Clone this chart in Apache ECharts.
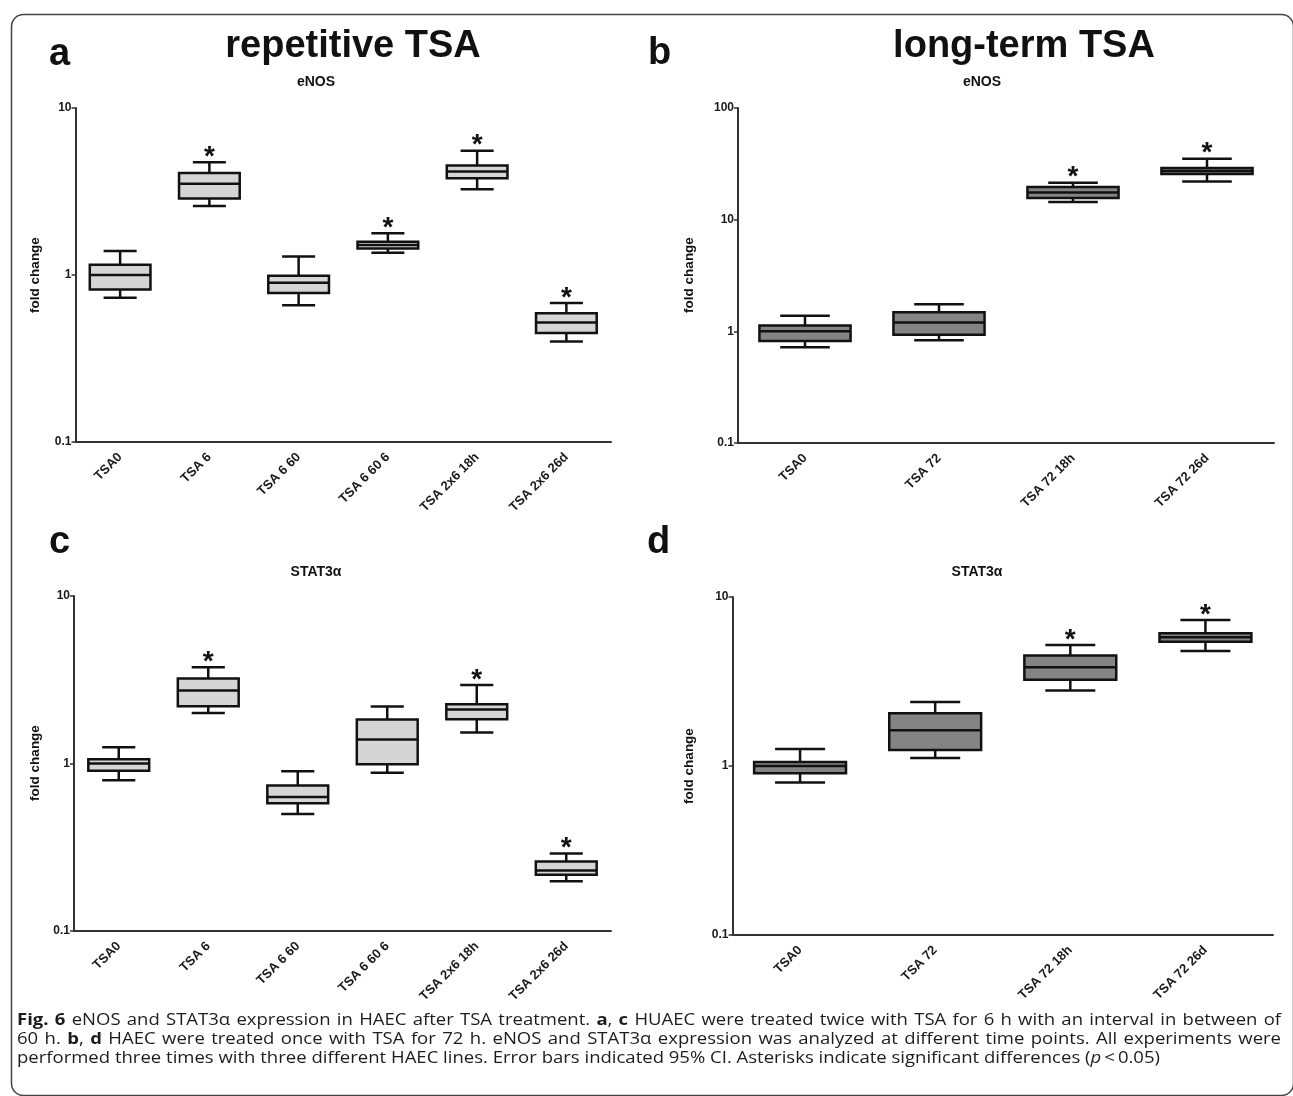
<!DOCTYPE html>
<html>
<head>
<meta charset="utf-8">
<script src="https://cdn.jsdelivr.net/npm/echarts@6/dist/echarts.min.js"></script>
<style>
html,body{margin:0;padding:0;background:#fff;}
#chart{width:1293px;height:1096px;}
</style>
</head>
<body>
<div id="chart"></div>
<script>
// ---------------- data ----------------
const catsRepetitive = ['TSA0', 'TSA 6', 'TSA 6 60', 'TSA 6 60 6', 'TSA 2x6 18h', 'TSA 2x6 26d'];
const catsLongTerm = ['TSA0', 'TSA 72', 'TSA 72 18h', 'TSA 72 26d'];

// each row: [lower whisker, Q1, median, Q3, upper whisker]
const eNOSRepetitive = [
  [0.73, 0.82, 1.00, 1.15, 1.39],
  [2.59, 2.87, 3.52, 4.08, 4.73],
  [0.66, 0.78, 0.90, 0.99, 1.29],
  [1.36, 1.44, 1.51, 1.58, 1.78],
  [3.26, 3.79, 4.16, 4.52, 5.55],
  [0.40, 0.45, 0.52, 0.59, 0.68]
];
const eNOSRepetitiveSig = [0, 1, 0, 1, 1, 1];

const eNOSLongTerm = [
  [0.72, 0.82, 1.00, 1.13, 1.38],
  [0.83, 0.93, 1.20, 1.48, 1.75],
  [14.4, 15.6, 17.5, 19.6, 21.4],
  [22.0, 25.6, 27.3, 29.0, 35.2]
];
const eNOSLongTermSig = [0, 0, 1, 1];

const stat3Repetitive = [
  [0.795, 0.904, 1.00, 1.06, 1.25],
  [2.00, 2.20, 2.73, 3.22, 3.75],
  [0.50, 0.58, 0.63, 0.74, 0.90],
  [0.88, 0.99, 1.39, 1.83, 2.19],
  [1.53, 1.84, 2.10, 2.26, 2.94],
  [0.198, 0.217, 0.230, 0.260, 0.290]
];
const stat3RepetitiveSig = [0, 1, 0, 0, 1, 1];

const stat3LongTerm = [
  [0.80, 0.905, 1.00, 1.056, 1.26],
  [1.115, 1.243, 1.63, 2.05, 2.39],
  [2.80, 3.24, 3.84, 4.50, 5.20],
  [4.79, 5.44, 5.77, 6.10, 7.31]
];
const stat3LongTermSig = [0, 0, 1, 1];

const yRangeRepetitive = [0.1, 10];
const yRangeLongTermENOS = [0.1, 100];
const yRangeLongTermSTAT = [0.1, 10];

const panelLetters = ['a', 'b', 'c', 'd'];
const columnTitles = ['repetitive TSA', 'long-term TSA'];
const geneTitles = ['eNOS', 'eNOS', 'STAT3\u03b1', 'STAT3\u03b1'];
const yAxisName = 'fold change';

const captionLines = [
  '{b|Fig.} {b|6} eNOS and STAT3\u03b1 expression in HAEC after TSA treatment. {b|a}, {b|c} HUAEC were treated twice with TSA for 6 h with an interval in between of',
  '60 h. {b|b}, {b|d} HAEC were treated once with TSA for 72 h. eNOS and STAT3\u03b1 expression was analyzed at different time points. All experiments were',
  'performed three times with three different HAEC lines. Error bars indicated 95% CI. Asterisks indicate significant differences ({i|p}\u2009<\u20090.05)'
];

// ---------------- chart ----------------
const FONT = "'Liberation Sans', Arial, Helvetica, sans-serif";
const chart = echarts.init(document.getElementById('chart'), null, {renderer: 'canvas'});

const grids = [
  {left: 75.5, top: 108, width: 535.5, height: 334},
  {left: 738, top: 108, width: 536, height: 335},
  {left: 74, top: 596, width: 537, height: 335},
  {left: 732.5, top: 597, width: 540.5, height: 338}
];

function mkX(idx, cats) {
  return {
    type: 'category', gridIndex: idx, data: cats, boundaryGap: true,
    axisLine: {lineStyle: {color: '#333', width: 2}},
    axisTick: {alignWithLabel: true, length: 5, lineStyle: {color: '#333', width: 1.5}},
    axisLabel: {rotate: 45, fontSize: 13, fontWeight: 'bold', color: '#1a1a1a', fontFamily: FONT, margin: 13, interval: 0},
    splitLine: {show: false}
  };
}
function mkY(idx, range) {
  return {
    type: 'log', logBase: 10, gridIndex: idx, min: range[0], max: range[1],
    axisLine: {show: true, lineStyle: {color: '#333', width: 2}},
    axisTick: {show: true, length: 4, lineStyle: {color: '#333', width: 1.5}},
    minorTick: {show: false},
    axisLabel: {fontSize: 12, fontWeight: 'bold', color: '#1a1a1a', fontFamily: FONT, margin: 4,
      formatter: function (v) { return String(+v.toPrecision(3)); }},
    splitLine: {show: false}
  };
}

function boxRender(fill, boxRatio, capRatio) {
  return function (params, api) {
    const i = api.value(0);
    const lo = api.value(1), q1 = api.value(2), md = api.value(3), q3 = api.value(4), hi = api.value(5);
    const sig = api.value(6);
    const band = api.size([1, 0], [i, 1])[0];
    const bw = band * boxRatio, cw = band * capRatio;
    const pLo = api.coord([i, lo]), pQ1 = api.coord([i, q1]), pMd = api.coord([i, md]);
    const pQ3 = api.coord([i, q3]), pHi = api.coord([i, hi]);
    const cx = pMd[0];
    const st = {stroke: '#111', lineWidth: 2.5, lineCap: 'butt'};
    const children = [
      {type: 'line', shape: {x1: cx, y1: pHi[1], x2: cx, y2: pQ3[1]}, style: st},
      {type: 'line', shape: {x1: cx, y1: pQ1[1], x2: cx, y2: pLo[1]}, style: st},
      {type: 'line', shape: {x1: cx - cw / 2, y1: pHi[1], x2: cx + cw / 2, y2: pHi[1]}, style: st},
      {type: 'line', shape: {x1: cx - cw / 2, y1: pLo[1], x2: cx + cw / 2, y2: pLo[1]}, style: st},
      {type: 'rect', shape: {x: cx - bw / 2, y: pQ3[1], width: bw, height: pQ1[1] - pQ3[1]},
        style: {fill: fill, stroke: '#111', lineWidth: 2.5}},
      {type: 'line', shape: {x1: cx - bw / 2, y1: pMd[1], x2: cx + bw / 2, y2: pMd[1]}, style: st}
    ];
    if (sig) {
      children.push({type: 'text', x: cx, y: pHi[1] - 5,
        style: {text: '*', fontSize: 28, fontWeight: 'bold', fontFamily: FONT, fill: '#111',
          align: 'center', verticalAlign: 'middle'}});
    }
    return {type: 'group', children: children};
  };
}

function mkSeries(idx, rows, sig, fill) {
  return {
    type: 'custom', xAxisIndex: idx, yAxisIndex: idx,
    renderItem: boxRender(fill, 0.68, 0.37),
    encode: {x: 0, y: [1, 2, 3, 4, 5]},
    data: rows.map(function (r, i) { return [i].concat(r).concat([sig[i]]); }),
    clip: false, silent: true
  };
}

const LIGHT = '#d5d5d5', DARK = '#848484';

const graphic = [];
// frame
graphic.push({type: 'rect', left: 9, top: 12, shape: {width: 1282, height: 1081, r: 12},
  style: {fill: 'none', stroke: '#444', lineWidth: 1.5}, z: 0});
// panel letters
const letterPos = [[49, 55], [648, 54], [49, 543], [647, 543]];
panelLetters.forEach(function (t, k) {
  graphic.push({type: 'text', x: letterPos[k][0], y: letterPos[k][1],
    style: {text: t, fontSize: 38, fontWeight: 'bold', fontFamily: FONT, fill: '#111',
      align: 'left', verticalAlign: 'middle'}});
});
// column titles
const colTitlePos = [[353, 47], [1024, 47]];
columnTitles.forEach(function (t, k) {
  graphic.push({type: 'text', x: colTitlePos[k][0], y: colTitlePos[k][1],
    style: {text: t, fontSize: 38, fontWeight: 'bold', fontFamily: FONT, fill: '#111',
      align: 'center', verticalAlign: 'middle'}});
});
// gene titles
const genePos = [[316, 82], [982, 82], [316, 572], [977, 572]];
geneTitles.forEach(function (t, k) {
  graphic.push({type: 'text', x: genePos[k][0], y: genePos[k][1],
    style: {text: t, fontSize: 14, fontWeight: 'bold', fontFamily: FONT, fill: '#111',
      align: 'center', verticalAlign: 'middle'}});
});
// y axis names
const yNamePos = [[35, 275], [689, 275], [35, 763], [689.5, 766]];
yNamePos.forEach(function (p) {
  graphic.push({type: 'text', x: p[0], y: p[1], rotation: Math.PI / 2,
    style: {text: yAxisName, fontSize: 13.5, fontWeight: 'bold', fontFamily: FONT, fill: '#111',
      align: 'center', verticalAlign: 'middle'}});
});

// caption (justified lines 1-2, natural last line)
const CAPFONT = "'Open Sans', 'Noto Sans', sans-serif";
const CAPSIZE = 16.5;
const CAPCOLOR = '#1c1c1c';
const capRich = {
  b: {fontWeight: 'bold', fontSize: CAPSIZE, fontFamily: CAPFONT, fill: CAPCOLOR},
  i: {fontStyle: 'italic', fontSize: CAPSIZE, fontFamily: CAPFONT, fill: CAPCOLOR}
};
const mctx = document.createElement('canvas').getContext('2d');
function segWidth(txt, kind) {
  const w = kind === 'b' ? 'bold ' : '';
  const s = kind === 'i' ? 'italic ' : '';
  mctx.font = s + w + CAPSIZE + 'px "Open Sans"';
  return mctx.measureText(txt).width;
}
function wordWidth(word) {
  const re = /\{(\w)\|([^}]*)\}|([^{]+)/g;
  let m, w = 0;
  while ((m = re.exec(word)) !== null) {
    if (m[3] !== undefined) w += segWidth(m[3], '');
    else w += segWidth(m[2], m[1]);
  }
  return w;
}
const capLeft = 17, capRight = 1281, lastLineEnd = 1160;
const capY = [1020, 1039.5, 1058];
const spaceW = segWidth(' ', '');
const lineWords = captionLines.map(function (l) { return l.split(' '); });
const lastW = lineWords[2].reduce(function (a, w) { return a + wordWidth(w); }, 0) + spaceW * (lineWords[2].length - 1);
const capScale = (lastLineEnd - capLeft) / lastW;
lineWords.forEach(function (words, k) {
  const widths = words.map(wordWidth);
  const sum = widths.reduce(function (a, b) { return a + b; }, 0) * capScale;
  let gap = spaceW * capScale;
  if (k < 2) gap = (capRight - capLeft - sum) / (words.length - 1);
  let x = capLeft;
  words.forEach(function (w, j) {
    graphic.push({type: 'text', x: x, y: capY[k], scaleX: capScale,
      style: {text: w, rich: capRich, fontSize: CAPSIZE, fontFamily: CAPFONT, fill: CAPCOLOR,
        align: 'left', verticalAlign: 'middle'}});
    x += widths[j] * capScale + gap;
  });
});

const option = {
  backgroundColor: '#fff',
  animation: false,
  grid: grids,
  xAxis: [mkX(0, catsRepetitive), mkX(1, catsLongTerm), mkX(2, catsRepetitive), mkX(3, catsLongTerm)],
  yAxis: [mkY(0, yRangeRepetitive), mkY(1, yRangeLongTermENOS), mkY(2, yRangeRepetitive), mkY(3, yRangeLongTermSTAT)],
  series: [
    mkSeries(0, eNOSRepetitive, eNOSRepetitiveSig, LIGHT),
    mkSeries(1, eNOSLongTerm, eNOSLongTermSig, DARK),
    mkSeries(2, stat3Repetitive, stat3RepetitiveSig, LIGHT),
    mkSeries(3, stat3LongTerm, stat3LongTermSig, DARK)
  ],
  graphic: graphic
};
chart.setOption(option);
</script>
</body>
</html>
